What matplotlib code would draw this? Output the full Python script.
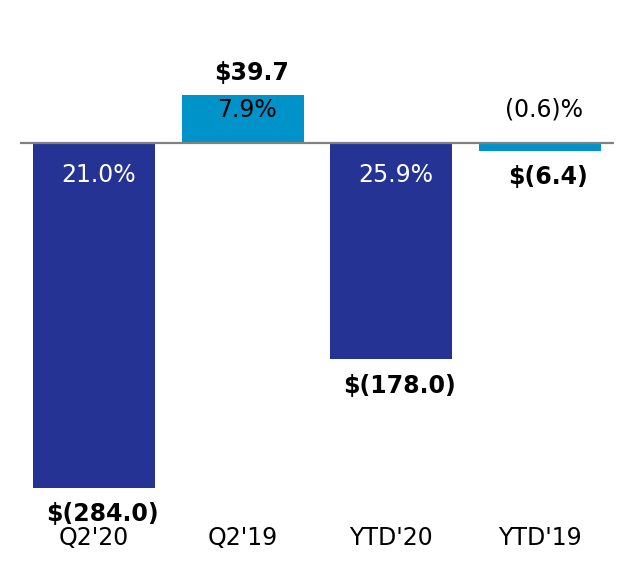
import numpy as np
import matplotlib.pyplot as plt

# Data
categories = ["Q2'20", "Q2'19", "YTD'20", "YTD'19"]
values = [-284.0, 39.7, -178.0, -6.4]
value_labels = ["$(284.0)", "$39.7", "$(178.0)", "$(6.4)"]
pct_labels = ["21.0%", "7.9%", "25.9%", "(0.6)%"]

dark = '#253494'
light = '#0093c9'
bar_colors = [dark, light, dark, light]
pct_colors = ['white', 'black', 'white', 'black']
pct_above = [False, True, False, True]

fig = plt.figure(figsize=(6.34, 5.7), dpi=100)
# axes from x=20..614 px, y=20..505 px (from top)
ax = fig.add_axes([20 / 634, (570 - 505) / 570, 594 / 634, 485 / 570])

x = np.arange(len(categories))
ax.bar(x, values, width=0.82, color=bar_colors, zorder=2)
ax.axhline(0, color='#808080', linewidth=1.6, zorder=3)

ax.set_xlim(-0.5, 3.5)
scale = 1.215  # px per unit
ax.set_ylim(-(505 - 143) / scale, (143 - 20) / scale)

# Value labels (bold) outside bar ends
for xi, v, lab in zip(x, values, value_labels):
    off = 16 if v > 0 else -19
    ax.annotate(lab, (xi, v), xytext=(6, off), textcoords='offset points',
                ha='center', va='center', fontsize=17, fontweight='bold')

# Percent labels near the zero line
for xi, lab, c, above in zip(x, pct_labels, pct_colors, pct_above):
    off = 24 if above else -23
    ax.annotate(lab, (xi, 0), xytext=(3, off), textcoords='offset points',
                ha='center', va='center', fontsize=17, color=c, zorder=4)

ax.set_xticks(x)
ax.set_xticklabels(categories, fontsize=17)
ax.tick_params(axis='x', length=0, pad=15)
ax.set_yticks([])
for s in ax.spines.values():
    s.set_visible(False)

fig.savefig('out.png', dpi=100)
